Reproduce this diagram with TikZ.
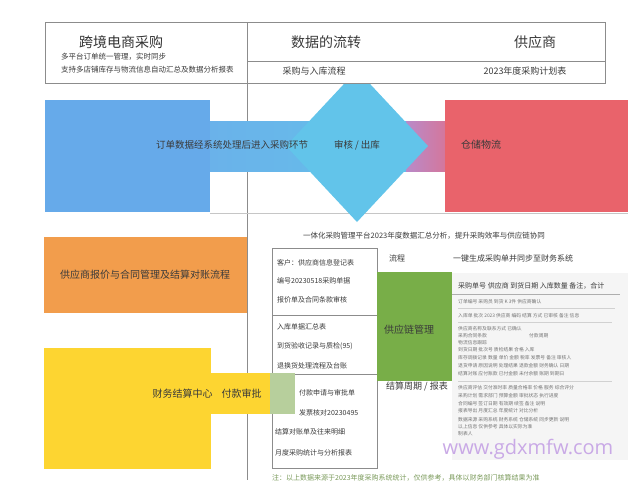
\documentclass[tikz,border=0pt]{standalone}
\usepackage{fontspec}
\setmainfont{Noto Sans CJK SC}
\newfontfamily\wmfont{Open Sans}
\newcommand\fsz[1]{\fontsize{#1}{#1}\selectfont}
\definecolor{blueA}{HTML}{66AAEA}
\definecolor{bandL}{HTML}{6AB2EA}
\definecolor{bandR}{HTML}{64C0EA}
\definecolor{cyanD}{HTML}{62C4EA}
\definecolor{purpL}{HTML}{B98AC9}
\definecolor{purpR}{HTML}{D4779C}
\definecolor{redA}{HTML}{E9636B}
\definecolor{orangeA}{HTML}{F29D4C}
\definecolor{yellowA}{HTML}{FDD531}
\definecolor{lgreen}{HTML}{B7CF9C}
\definecolor{greenA}{HTML}{78AE48}
\definecolor{linegray}{HTML}{8C8C8C}
\definecolor{textgray}{HTML}{3A3A3A}
\definecolor{panelgray}{HTML}{F5F5F5}
\definecolor{wmcolor}{HTML}{C9A9E6}
\definecolor{notegreen}{HTML}{7A9A5A}
\begin{document}
\begin{tikzpicture}[x=1pt,y=-1pt,
    box/.style={inner sep=0pt, draw=none},
    txt/.style={inner sep=0pt, text=textgray},
    tiny/.style={inner sep=0pt, anchor=west, text=textgray!70, font=\fsz{4.8}}]
    \useasboundingbox (0,0) rectangle (640,480);
    \fill[white] (0,0) rectangle (640,480);
    \draw[linegray] (247,22) -- (247,480);
    \draw[linegray!50] (210,213) -- (628,213);

    \node[box, fill=blueA, minimum width=165pt, minimum height=112pt] (B1) at (127.5,156) {};
    \shade[left color=bandL, right color=bandR] (210,121) rectangle (406,171);
    \shade[left color=purpL, right color=purpR] (406,121) rectangle (445,171);
    \fill[cyanD] (357,70) -- (428,146) -- (357,222) -- (286,146) -- cycle;
    \node[box, fill=redA, minimum width=183pt, minimum height=112pt] (R1) at (536.5,156) {};
    \node[txt, font=\fsz{9.5}] (B2) at (232,145) {订单数据经系统处理后进入采购环节};
    \node[txt, font=\fsz{9.5}] (B3) at (357,145) {审核 / 出库};
    \node[txt, font=\fsz{10}] (R2) at (481,145) {仓储物流};

    \node[box, draw=linegray, fill=white, minimum width=560pt, minimum height=61pt] (T) at (325,52.5) {};
    \draw[linegray] (247,22) -- (247,83) (247,61) -- (605,61);
    \node[txt, font=\fsz{14}, text=black!80] (T1) at (121,42) {跨境电商采购};
    \node[txt, font=\fsz{7.5}, anchor=west] (T2) at (61,57) {多平台订单统一管理，实时同步};
    \node[txt, font=\fsz{7.5}, anchor=west] (T3) at (61,70) {支持多店铺库存与物流信息自动汇总及数据分析报表};
    \node[txt, font=\fsz{14}] (T4) at (326,42) {数据的流转};
    \node[txt, font=\fsz{14}] (T5) at (535,42) {供应商};
    \node[txt, font=\fsz{9}] (T6) at (314,71) {采购与入库流程};
    \node[txt, font=\fsz{9}] (T7) at (525,71) {2023年度采购计划表};

    \node[box, fill=orangeA, minimum width=203pt, minimum height=76pt] (O1) at (145.5,275) {};
    \node[txt, font=\fsz{10}] (O2) at (145,275) {供应商报价与合同管理及结算对账流程};

    \node[box, draw=linegray, fill=white, minimum width=105pt, minimum height=220pt] (G1) at (324.5,358) {};
    \draw[linegray] (272,315) -- (377,315) (272,374) -- (377,374);
    \node[box, fill=yellowA, minimum width=167pt, minimum height=121pt] (Y1) at (127.5,408.5) {};
    \fill[yellowA] (211,373) rectangle (270,414);
    \fill[lgreen] (270,373) rectangle (295,414);
    \node[txt, font=\fsz{10}] (Y2) at (207,394) {财务结算中心\hspace{9pt}付款审批};

    \node[txt, font=\fsz{7.5}, anchor=west] (H1) at (303,236) {一体化采购管理平台2023年度数据汇总分析，提升采购效率与供应链协同};
    \node[txt, font=\fsz{7}, anchor=west] (G11) at (277,263) {客户：供应商信息登记表};
    \node[txt, font=\fsz{7}, anchor=west] (G12) at (277,281) {编号20230518采购单据};
    \node[txt, font=\fsz{7}, anchor=west] (G13) at (277,300) {报价单及合同条款审核};
    \node[txt, font=\fsz{7}, anchor=west] (G14) at (277,327) {入库单据汇总表};
    \node[txt, font=\fsz{7}, anchor=west] (G15) at (277,346) {到货验收记录与质检(95)};
    \node[txt, font=\fsz{7}, anchor=west] (G16) at (277,366) {退换货处理流程及台账};
    \node[txt, font=\fsz{7}, anchor=west] (G17) at (299,393) {付款申请与审批单};
    \node[txt, font=\fsz{7}, anchor=west] (G18) at (299,413) {发票核对20230495};
    \node[txt, font=\fsz{7}, anchor=west] (G19) at (275,432) {结算对账单及往来明细};
    \node[txt, font=\fsz{7}, anchor=west] (G20) at (275,453) {月度采购统计与分析报表};

    \node[box, fill=greenA, minimum width=75pt, minimum height=109pt] (G2) at (414.5,326.5) {};
    \node[txt, font=\fsz{8}] (G3) at (397,258) {流程};
    \node[txt, font=\fsz{8}, anchor=west] (G4) at (453,258) {一键生成采购单并同步至财务系统};
    \node[txt, font=\fsz{10}] (G5) at (409,330) {供应链管理};
    \node[txt, font=\fsz{9}] (G6) at (417,386) {结算周期 / 报表};

    \node[box, fill=panelgray, minimum width=176pt, minimum height=187pt] (P1) at (540,366.5) {};
    \node[txt, font=\fsz{7}, anchor=west] (P2) at (458,286) {采购单号 供应商 到货日期 入库数量 备注，合计};
    \draw[linegray!70] (452,294) -- (620,294);
    \node[tiny] (P3) at (458,302) {订单编号 采购员 到货 K 3件 供应商确认};
    \draw[linegray!40] (458,308) -- (615,308);
    \node[tiny] (P4) at (458,316) {入库单 批次 2023 供应商 编码 结算 方式 已审核 备注 信息};
    \draw[linegray!40] (458,322) -- (612,322);
    \node[tiny] (P5) at (458,329) {供应商名称及联系方式 已确认};
    \node[tiny] (P6) at (458,336) {采购合同条款 \hspace{40pt} 付款周期};
    \node[tiny] (P7) at (458,343) {物流信息跟踪};
    \node[tiny] (P8) at (458,350) {到货日期 批次号 质检结果 合格 入库};
    \node[tiny] (P9) at (458,358) {库存调拨记录 数量 单价 金额 税率 发票号 备注 审核人};
    \node[tiny] (P10) at (458,366) {退货申请 原因说明 处理结果 退款金额 财务确认 日期};
    \node[tiny] (P11) at (458,374) {结算对账 应付账款 已付金额 未付余额 账期 到期日};
    \draw[linegray!40] (458,381) -- (612,381);
    \node[tiny] (P12) at (458,388) {供应商评估 交付准时率 质量合格率 价格 服务 综合评分};
    \node[tiny] (P13) at (458,396) {采购计划 需求部门 预算金额 审批状态 执行进度};
    \node[tiny] (P14) at (458,404) {合同编号 签订日期 有效期 续签 备注 说明};
    \node[tiny] (P15) at (458,411) {报表导出 月度汇总 年度统计 对比分析};
    \node[tiny] (P16) at (458,420) {数据来源 采购系统 财务系统 仓储系统 同步更新 说明};
    \node[tiny] (P17) at (458,427) {以上信息 仅供参考 具体以实际为准};
    \node[tiny] (P18) at (458,434) {制表人};

    \node[inner sep=0pt, text=wmcolor, font=\wmfont\fsz{20}] (W1) at (528,449) {www.gdxmfw.com};
    \node[inner sep=0pt, anchor=west, text=notegreen, font=\fsz{7}] (F1) at (272,478) {注：以上数据来源于2023年度采购系统统计，仅供参考，具体以财务部门核算结果为准};
\end{tikzpicture}
\end{document}
